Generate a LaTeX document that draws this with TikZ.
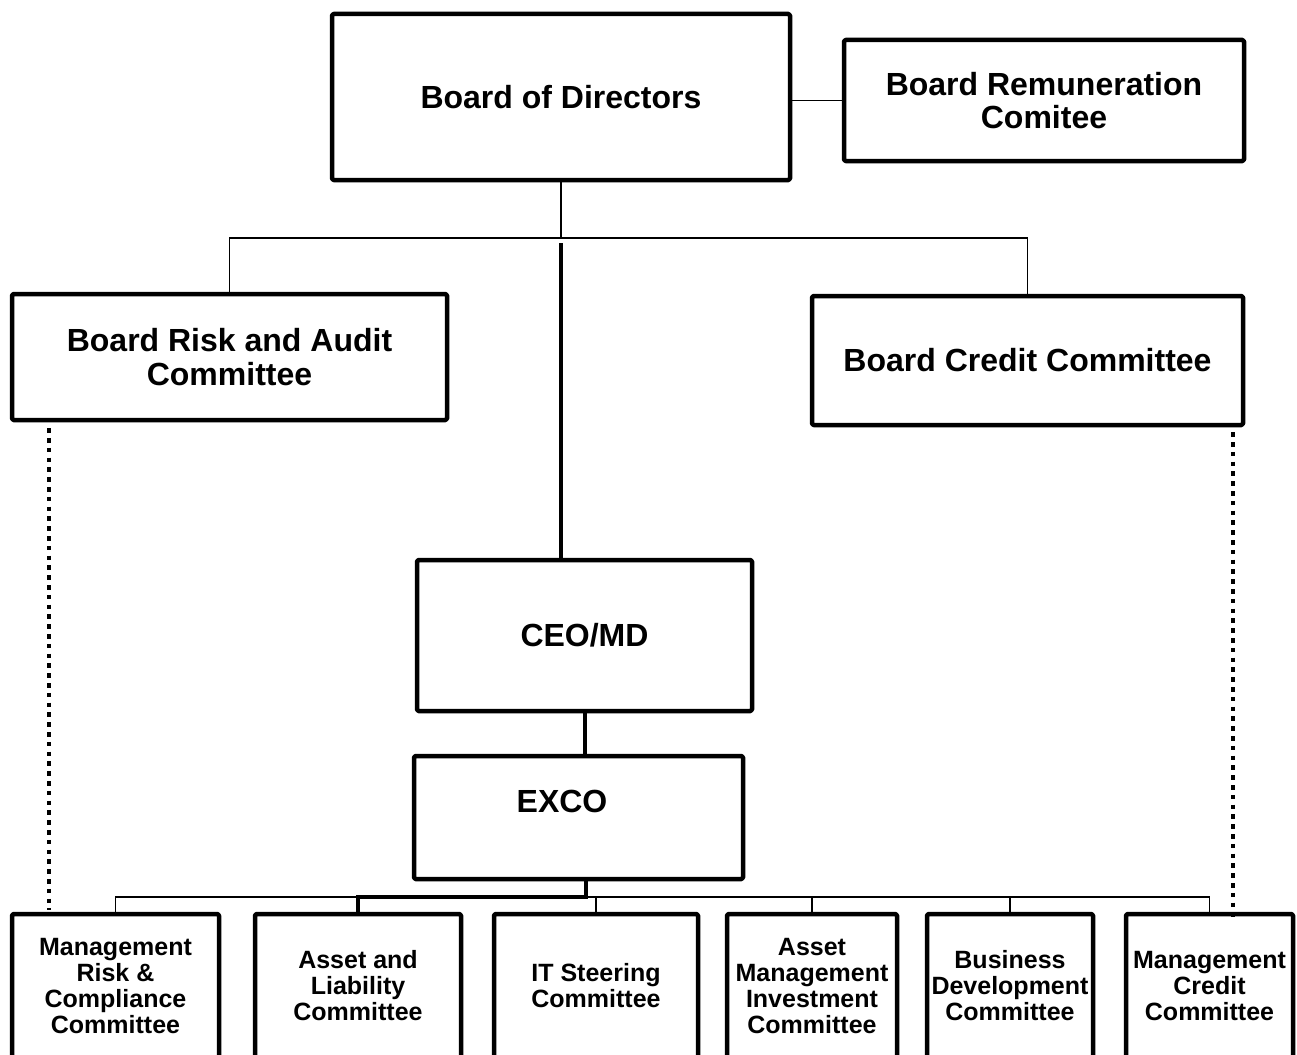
\documentclass[tikz,border=0pt]{standalone}
\usepackage{fontspec}
\setmainfont{Liberation Sans}
\tikzset{
  box/.style={draw, line width=4.5pt, line join=round, rounded corners=1.5pt, inner sep=0pt, align=center, font=\bfseries\fontsize{32}{33.5}\selectfont},
  sbox/.style={box, font=\bfseries\fontsize{25}{26}\selectfont},
  thinline/.style={line width=1.5pt},
  thickline/.style={line width=4pt},
  dotline/.style={line width=4.5pt, dash pattern=on 4.5pt off 5.3pt},
}
\begin{document}
\begin{tikzpicture}[x=1pt,y=-1pt]
\useasboundingbox (0,0) rectangle (1297,1054);
% upper boxes
\node[box, minimum width=458pt, minimum height=166pt] (bod) at (561,97) {Board of Directors};
\node[box, minimum width=400pt, minimum height=121pt] (brc) at (1044,100.5) {Board Remuneration\\Comitee};
\node[box, minimum width=435pt, minimum height=126pt] (bra) at (229.5,357) {Board Risk and Audit\\Committee};
\node[box, minimum width=431pt, minimum height=129pt] (bcc) at (1027.5,360.5) {Board Credit Committee};
\node[box, minimum width=335pt, minimum height=151pt] (ceo) at (584.5,635.5) {CEO/MD};
\node[box, minimum width=329pt, minimum height=123pt] (exco) at (578.5,817.5) {};
\node[font=\bfseries\fontsize{32}{33.5}\selectfont, inner sep=0pt] (excot) at (562,801) {EXCO};
% bottom boxes
\node[sbox, minimum width=207pt, minimum height=144pt] (mrc) at (115.5,986) {Management\\Risk \&\\Compliance\\Committee};
\node[sbox, minimum width=206pt, minimum height=144pt] (alc) at (358,986) {Asset and\\Liability\\Committee};
\node[sbox, minimum width=204pt, minimum height=144pt] (its) at (596,986) {IT Steering\\Committee};
\node[sbox, minimum width=170pt, minimum height=144pt] (ami) at (812,986) {Asset\\Management\\Investment\\Committee};
\node[sbox, minimum width=166pt, minimum height=144pt] (bdc) at (1010,986) {Business\\Development\\Committee};
\node[sbox, minimum width=167pt, minimum height=144pt] (mcc) at (1209.5,986) {Management\\Credit\\Committee};
% connectors top
\draw[thinline] (bod.east |- brc.west) -- (brc.west);
\coordinate (j1) at (561,238);
\draw[thinline] (bod.south) -- (j1);
\draw[thinline] (bra.north) |- (j1) -| (bcc.north);
\coordinate (t1) at (561,243);
\draw[thickline] (t1) -- (t1 |- ceo.north);
\draw[thickline] (ceo.south) -- (ceo.south |- exco.north);
% connectors bottom
\coordinate (j2) at (586,897);
\draw[thinline] (mrc.north) |- (j2) -| (mcc.north);
\draw[thinline] (its.north) -- (its.north |- j2);
\draw[thinline] (ami.north) -- (ami.north |- j2);
\draw[thinline] (bdc.north) -- (bdc.north |- j2);
\draw[thickline] (exco.south -| j2) -- (j2) -| (alc.north);
% dotted
\coordinate (d1) at (49,0);
\coordinate (d2) at (1233,0);
\draw[dotline, shorten <=6pt, shorten >=2pt] (bra.south -| d1) -- (mrc.north -| d1);
\draw[dotline, shorten <=5pt, shorten >=-6pt] (bcc.south -| d2) -- (mcc.north -| d2);
\end{tikzpicture}
\end{document}
